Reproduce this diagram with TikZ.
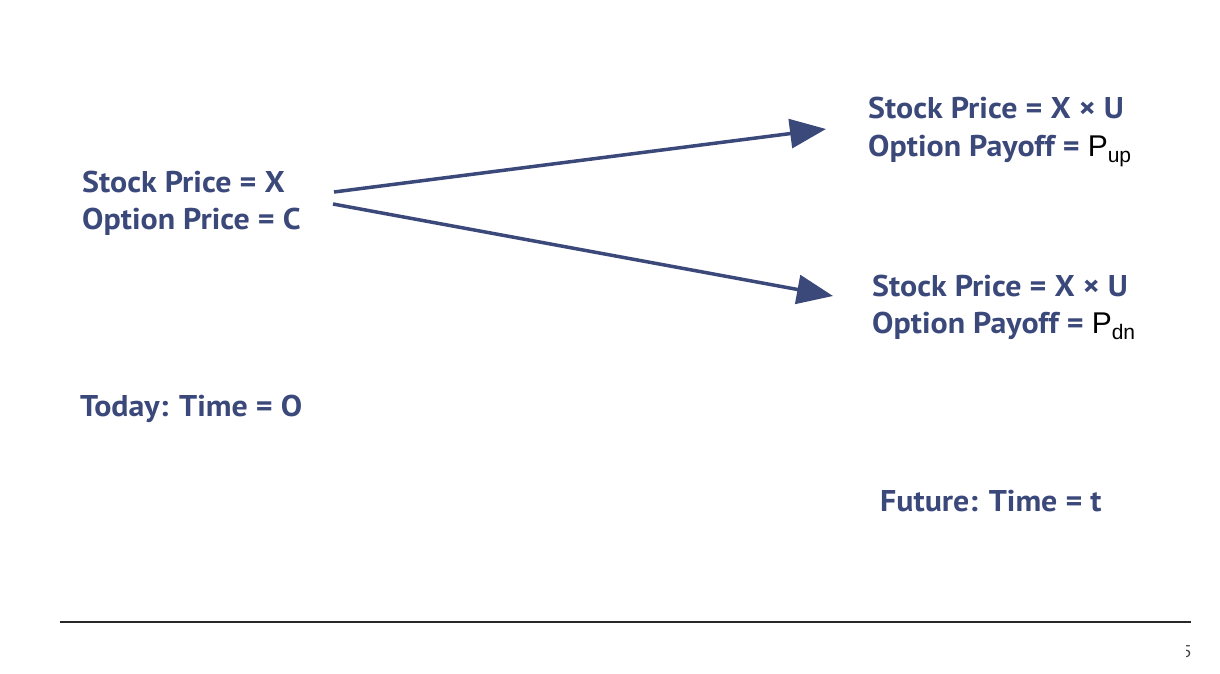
\documentclass[tikz,border=0pt]{standalone}
\usepackage{fontspec}
\setmainfont{PT Sans}[FakeStretch=1.065]
\newfontfamily\arialfont{Liberation Sans}
\usetikzlibrary{arrows.meta}
\definecolor{navy}{RGB}{59,72,122}
\definecolor{rulegray}{RGB}{40,40,40}
\tikzset{
  lbl/.style={anchor=base west, inner sep=0pt, text=navy, font=\bfseries\fontsize{30}{37}\selectfont, align=left},
  conn/.style={draw=navy, line width=3.5pt, -{Triangle[length=36pt,width=29pt]}},
}
\newcommand{\psub}[1]{{\arialfont\mdseries\color{black}\fontsize{30}{30}\selectfont P\raisebox{-6pt}{\fontsize{21}{21}\selectfont #1}}}
\begin{document}
\begin{tikzpicture}[x=1pt,y=-1pt]
\useasboundingbox (0,0) rectangle (1220,674);
\node[lbl] (today1) at (82,192) {Stock Price = X};
\node[lbl] (today2) at (82,229) {Option Price = C};
\node[lbl] (up1) at (868,118) {Stock Price = X × U};
\node[lbl] (up2) at (868,156) {Option Payoff = \psub{up}};
\node[lbl] (dn1) at (872,296) {Stock Price = X × U};
\node[lbl] (dn2) at (872,333) {Option Payoff = \psub{dn}};
\node[lbl] (today) at (80,416) {Today: Time = O};
\node[lbl] (future) at (880,511) {Future: Time = t};
\coordinate (s1) at (334,192);
\coordinate (e1) at (826,129);
\coordinate (s2) at (333,204);
\coordinate (e2) at (833,296);
\draw[conn] (s1) -- (e1);
\draw[conn] (s2) -- (e2);
\coordinate (r1) at (60,622);
\coordinate (r2) at (1191,622);
\draw[rulegray, line width=1.6pt] (r1) -- (r2);
\begin{scope}
\clip (1186,630) rectangle (1220,674);
\node[anchor=base west, inner sep=0pt, text=black!75, font=\fontsize{17}{17}\selectfont] (pg) at (1182,657) {5};
\end{scope}
\end{tikzpicture}
\end{document}
